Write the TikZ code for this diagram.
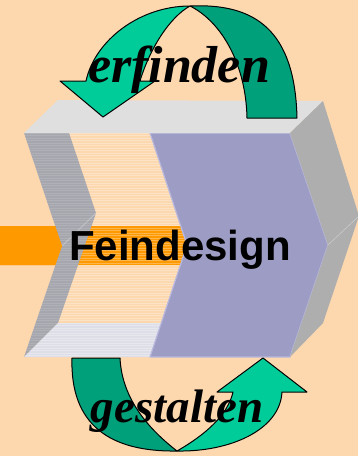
\documentclass[tikz,border=0pt]{standalone}
\usepackage{fontspec}
\setmainfont{Liberation Serif}
\newfontfamily\arialf{Liberation Sans}
\definecolor{bg}{RGB}{253,216,174}
\definecolor{orng}{RGB}{255,153,0}
\definecolor{lgreen}{RGB}{0,204,153}
\definecolor{dgreen}{RGB}{0,160,122}
\definecolor{purp}{RGB}{156,156,196}
\definecolor{purpedge}{RGB}{185,185,222}
\definecolor{topface}{RGB}{223,223,223}
\definecolor{sideface}{RGB}{174,174,174}
\definecolor{stripgray}{RGB}{166,166,174}
\definecolor{botface}{RGB}{222,222,232}
\tikzset{
  arrowband/.style={draw=black,line width=1pt,line join=round},
  stripes/.style={white,opacity=0.3,line width=0.8pt},
  faintedge/.style={draw=white,opacity=0.35,line width=0.6pt},
  wordstyle/.style={inner sep=0pt,anchor=base,text=black}
}
\begin{document}
\begin{tikzpicture}[x=1pt,y=-1pt]
\useasboundingbox (0,0) rectangle (358,456);
\fill[bg] (0,0) rectangle (358,456);
% orange bar
\fill[orng] (0,226) -- (181,226) -- (187,246) -- (181,265) -- (0,265) -- cycle;
% striped peach front (semi-transparent)
\begin{scope}
\clip (69,133) -- (150,133) -- (187,245) -- (161,323) -- (58,323) -- (96,213) -- cycle;
\foreach \y in {133,135.5,...,325} \draw[stripes] (0,\y) -- (358,\y);
\end{scope}
% gray notch strip
\fill[stripgray] (24,133) -- (69,133) -- (96,213) -- (58,323) -- (24,357) -- (62,246) -- cycle;
\begin{scope}
\clip (24,133) -- (69,133) -- (96,213) -- (58,323) -- (24,357) -- (62,246) -- cycle;
\foreach \y in {133,135.5,...,358} \draw[white,opacity=0.12,line width=0.8pt] (0,\y) -- (358,\y);
\end{scope}
\draw[faintedge] (96,213) -- (62,246);
% bottom face
\fill[botface] (58,323) -- (161,323) -- (150,357) -- (24,357) -- cycle;
\begin{scope}
\clip (58,323) -- (161,323) -- (150,357) -- (24,357) -- cycle;
\foreach \y in {323,325.5,...,358} \draw[white,opacity=0.3,line width=0.8pt] (0,\y) -- (358,\y);
\end{scope}
% orange front tip (left of notch)
\fill[orng] (0,226) -- (55,226) -- (62,246) -- (55,265) -- (0,265) -- cycle;
% purple front part
\filldraw[fill=purp,draw=purpedge,line width=1.2pt,line join=round] (150,133) -- (290,133) -- (328,245) -- (290,357) -- (150,357) -- (187,245) -- cycle;
% top face
\fill[topface] (24,133) -- (58,100) -- (323,101) -- (290,133) -- cycle;
% right face
\fill[sideface] (290,133) -- (323,101) -- (359,216) -- (323,323) -- (290,357) -- (328,245) -- cycle;
\draw[faintedge] (328,245) -- (359,216);
% top arrow (erfinden)
\filldraw[arrowband,fill=dgreen] (190,6) .. controls (255,3) and (295,30) .. (297,118) -- (247,118) .. controls (246,65) and (222,22) .. (190,6) -- cycle;
\filldraw[arrowband,fill=lgreen] (86,81) .. controls (95,40) and (140,6) .. (190,6) .. controls (170,17) and (150,48) .. (140,81) -- (155,81) -- (103,117) -- (60,81) -- cycle;
% bottom arrow (gestalten)
\filldraw[arrowband,fill=dgreen] (72,358) .. controls (70,425) and (110,452) .. (177,451) .. controls (150,430) and (122,400) .. (120,358) -- cycle;
\filldraw[arrowband,fill=lgreen] (177,451) .. controls (230,452) and (280,430) .. (282,392) -- (307,392) -- (263,358) -- (217,392) -- (233,392) .. controls (228,415) and (205,435) .. (177,451) -- cycle;
% texts
\node[wordstyle,font=\fontsize{52}{52}\selectfont\bfseries\itshape] (erf) at (179,82) {erfinden};
\node[wordstyle,font=\fontsize{47}{47}\selectfont\bfseries\itshape] (ges) at (177,422) {gestalten};
\node[wordstyle,font=\arialf\fontsize{42}{42}\selectfont\bfseries] (fein) at (180,260) {Feindesign};
\end{tikzpicture}
\end{document}
